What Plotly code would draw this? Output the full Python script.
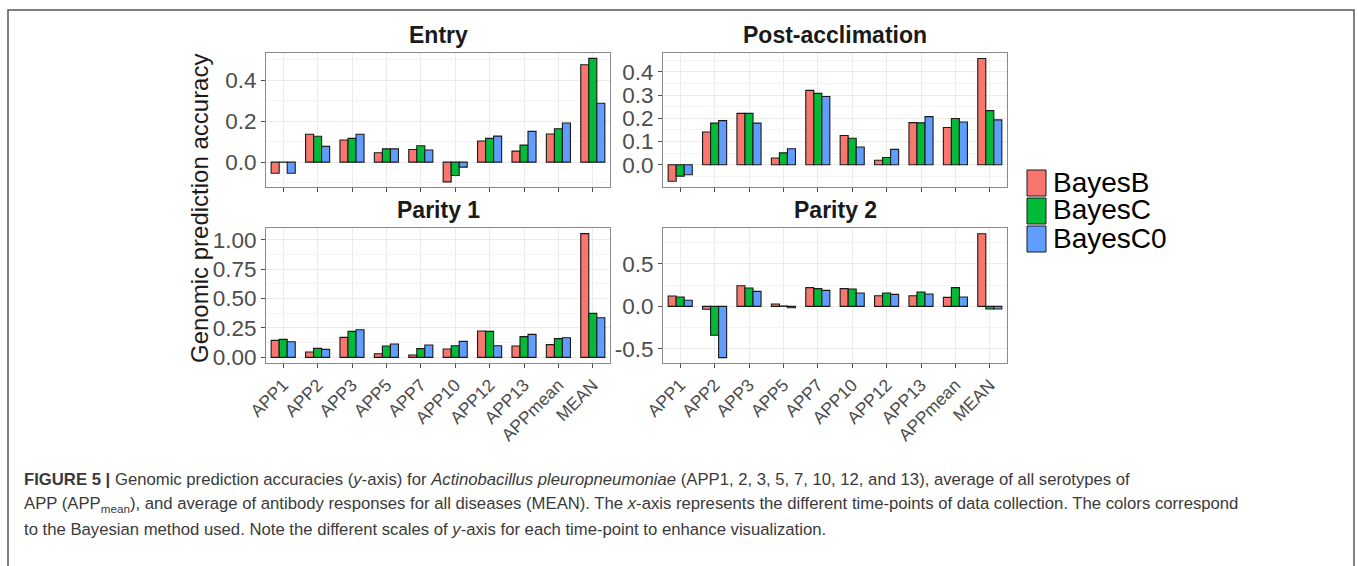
import plotly.graph_objects as go

categories = ["APP1", "APP2", "APP3", "APP5", "APP7", "APP10", "APP12", "APP13", "APPmean", "MEAN"]
methods = ["BayesB", "BayesC", "BayesC0"]
colors = ["#F8766D", "#00BA38", "#619CFF"]

entry_B = [-0.054, 0.136, 0.108, 0.046, 0.062, -0.096, 0.103, 0.054, 0.137, 0.475]
entry_C = [0.0, 0.126, 0.116, 0.065, 0.080, -0.065, 0.116, 0.083, 0.163, 0.506]
entry_C0 = [-0.054, 0.077, 0.136, 0.065, 0.059, -0.024, 0.127, 0.150, 0.191, 0.287]

post_B = [-0.071, 0.141, 0.221, 0.029, 0.320, 0.126, 0.019, 0.181, 0.160, 0.457]
post_C = [-0.049, 0.179, 0.221, 0.051, 0.307, 0.114, 0.031, 0.180, 0.199, 0.233]
post_C0 = [-0.043, 0.190, 0.179, 0.069, 0.294, 0.076, 0.066, 0.207, 0.184, 0.193]

par1_B = [0.144, 0.045, 0.170, 0.031, 0.020, 0.071, 0.224, 0.096, 0.108, 1.051]
par1_C = [0.153, 0.076, 0.221, 0.096, 0.074, 0.099, 0.221, 0.176, 0.159, 0.374]
par1_C0 = [0.133, 0.068, 0.235, 0.113, 0.105, 0.136, 0.099, 0.195, 0.167, 0.337]

par2_B = [0.122, -0.035, 0.243, 0.027, 0.220, 0.208, 0.125, 0.125, 0.106, 0.855]
par2_C = [0.110, -0.341, 0.216, 0.004, 0.208, 0.204, 0.157, 0.169, 0.220, -0.031]
par2_C0 = [0.071, -0.604, 0.176, -0.016, 0.188, 0.157, 0.141, 0.145, 0.110, -0.031]

panel_titles = ["Entry", "Post-acclimation", "Parity 1", "Parity 2"]
panel_data = [
    [entry_B, entry_C, entry_C0],
    [post_B, post_C, post_C0],
    [par1_B, par1_C, par1_C0],
    [par2_B, par2_C, par2_C0],
]
y_ranges = [[-0.121, 0.532], [-0.096, 0.481], [-0.048, 1.099], [-0.667, 0.922]]
y_ticks = [[0.0, 0.2, 0.4], [0.0, 0.1, 0.2, 0.3, 0.4], [0.0, 0.25, 0.5, 0.75, 1.0], [-0.5, 0.0, 0.5]]
y_ticktext = [["0.0", "0.2", "0.4"], ["0.0", "0.1", "0.2", "0.3", "0.4"],
              ["0.00", "0.25", "0.50", "0.75", "1.00"], ["-0.5", "0.0", "0.5"]]
y_minor = [0.1, 0.05, 0.125, 0.25]

W, H = 1358, 566
def px_x(p): return p / W
def px_y(p): return 1 - p / H

x_doms = [[px_x(266), px_x(610)], [px_x(663), px_x(1007)]]
y_doms = [[px_y(187), px_y(53)], [px_y(363), px_y(228)]]

fig = go.Figure()
layout = {}
annotations = []
for i in range(4):
    r, c = divmod(i, 2)
    sfx = "" if i == 0 else str(i + 1)
    for m, name in enumerate(methods):
        fig.add_trace(go.Bar(
            x=categories, y=panel_data[i][m], name=name,
            marker=dict(color=colors[m], line=dict(color="#1a1a1a", width=1.1)),
            xaxis="x" + sfx, yaxis="y" + sfx, showlegend=False,
            offsetgroup=str(m),
        ))
    layout["xaxis" + sfx] = dict(
        domain=x_doms[c], anchor="y" + sfx, type="category",
        categoryorder="array", categoryarray=categories,
        showgrid=True, gridcolor="#EBEBEB", gridwidth=1,
        showline=True, linecolor="#8A8A8A", linewidth=1, mirror=True,
        ticks="outside", ticklen=4, tickcolor="#4D4D4D",
        showticklabels=(r == 1), tickangle=-45, automargin=False,
        tickfont=dict(family="Liberation Sans, Arial", size=17.5, color="#4D4D4D"),
        zeroline=False,
    )
    layout["yaxis" + sfx] = dict(
        domain=y_doms[r], anchor="x" + sfx, range=y_ranges[i],
        tickvals=y_ticks[i], ticktext=y_ticktext[i], automargin=False,
        showgrid=True, gridcolor="#EBEBEB", gridwidth=1,
        minor=dict(showgrid=True, gridcolor="#F4F4F4", gridwidth=1, dtick=y_minor[i], tick0=0),
        showline=True, linecolor="#8A8A8A", linewidth=1, mirror=True,
        ticks="outside", ticklen=4, tickcolor="#4D4D4D",
        tickfont=dict(family="Liberation Sans, Arial", size=22.5, color="#4D4D4D"),
        zeroline=False,
    )
    annotations.append(dict(
        text="<b>" + panel_titles[i] + "</b>", xref="paper", yref="paper",
        x=(x_doms[c][0] + x_doms[c][1]) / 2, y=y_doms[r][1] + 3 / H,
        xanchor="center", yanchor="bottom", showarrow=False,
        font=dict(family="Liberation Sans, Arial", size=23, color="#1a1a1a"),
    ))

annotations.append(dict(
    text="Genomic prediction accuracy", xref="paper", yref="paper",
    x=px_x(200), y=px_y(209), textangle=-90, showarrow=False,
    xanchor="center", yanchor="middle",
    font=dict(family="Liberation Sans, Arial", size=24, color="#1a1a1a"),
))

shapes = []
# custom legend
leg_tops = [170, 198, 226]
for m, name in enumerate(methods):
    t = leg_tops[m]
    shapes.append(dict(type="rect", xref="paper", yref="paper",
                       x0=px_x(1027), x1=px_x(1046), y0=px_y(t + 26), y1=px_y(t),
                       fillcolor=colors[m], line=dict(color="#1a1a1a", width=1)))
    annotations.append(dict(text=name, xref="paper", yref="paper",
                            x=px_x(1051), y=px_y(t + 12), xanchor="left", yanchor="middle",
                            showarrow=False,
                            font=dict(family="Liberation Sans, Arial", size=28, color="#000000")))

# outer frame
shapes.append(dict(type="rect", xref="paper", yref="paper",
                   x0=px_x(8), x1=px_x(1354), y0=-0.02, y1=px_y(10),
                   line=dict(color="#555555", width=1.5), fillcolor="rgba(0,0,0,0)"))

cap_font = dict(family="Liberation Sans, Arial", size=16.7, color="#3a3a3a")
caption_lines = [
    "<b>FIGURE 5 |</b> Genomic prediction accuracies (<i>y</i>-axis) for <i>Actinobacillus pleuropneumoniae</i> (APP1, 2, 3, 5, 7, 10, 12, and 13), average of all serotypes of",
    "APP (APP<sub>mean</sub>), and average of antibody responses for all diseases (MEAN). The <i>x</i>-axis represents the different time-points of data collection. The colors correspond",
    "to the Bayesian method used. Note the different scales of <i>y</i>-axis for each time-point to enhance visualization.",
]
cap_y = [479, 504, 529]
for line, yy in zip(caption_lines, cap_y):
    annotations.append(dict(text=line, xref="paper", yref="paper",
                            x=px_x(22), y=px_y(yy), xanchor="left", yanchor="middle",
                            showarrow=False, font=cap_font, align="left"))

fig.update_layout(
    width=W, height=H, margin=dict(l=0, r=0, t=0, b=0, pad=0, autoexpand=False),
    paper_bgcolor="white", plot_bgcolor="white",
    barmode="group", bargap=0.3, bargroupgap=0,
    annotations=annotations, shapes=shapes, showlegend=False,
    **layout,
)
fig.write_html(
    "out.html",
    config={"displayModeBar": False},
    post_script="document.body.style.margin='0';document.body.style.overflow='hidden';",
)
